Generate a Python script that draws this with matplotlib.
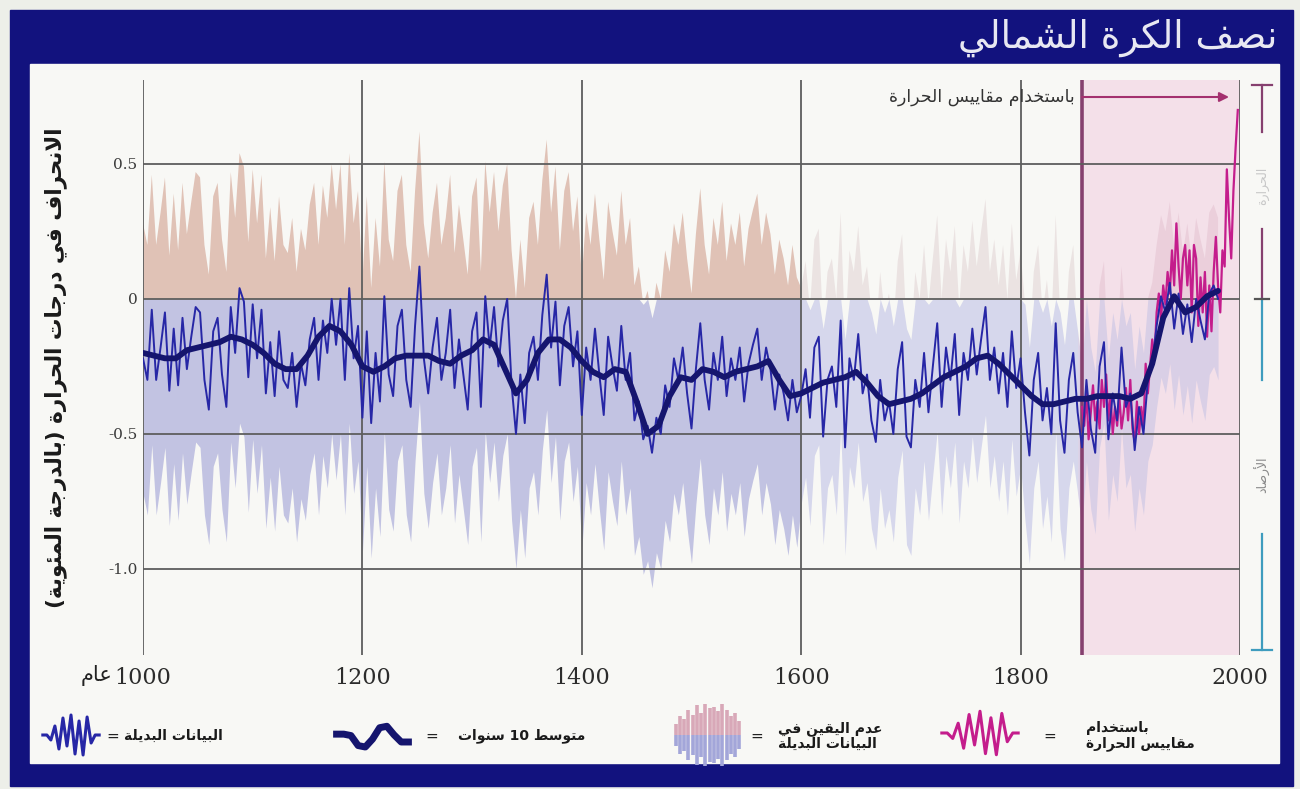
import re

import numpy as np
import matplotlib
matplotlib.use('Agg')
import matplotlib.pyplot as plt
from matplotlib.patches import Rectangle
from matplotlib.lines import Line2D

####################
# data (deg C anomaly)
####################
proxy_years = np.arange(1000, 1981, 4)
proxy = np.array(
    # 1000-1096
    [-0.22, -0.30, -0.04, -0.30, -0.18, -0.05, -0.34, -0.11, -0.32, -0.07,
     -0.26, -0.14, -0.03, -0.05, -0.30, -0.41, -0.12, -0.07, -0.28, -0.40,
     -0.03, -0.20, 0.04, -0.01, -0.29]
    # 1100-1196
    + [-0.02, -0.22, -0.04, -0.35, -0.16, -0.36, -0.12, -0.30, -0.33, -0.20,
       -0.40, -0.24, -0.32, -0.15, -0.07, -0.30, -0.08, -0.20, 0.00, -0.17,
       0.00, -0.30, 0.04, -0.22, -0.10]
    # 1200-1296
    + [-0.44, -0.12, -0.46, -0.20, -0.38, 0.01, -0.28, -0.36, -0.10, -0.04,
       -0.30, -0.40, -0.10, 0.12, -0.22, -0.35, -0.18, -0.07, -0.30, -0.20,
       -0.04, -0.33, -0.15, -0.28, -0.41]
    # 1300-1396
    + [-0.12, -0.05, -0.40, 0.01, -0.18, -0.03, -0.25, -0.08, 0.00, -0.32,
       -0.50, -0.28, -0.46, -0.20, -0.14, -0.30, -0.06, 0.09, -0.18, -0.01,
       -0.32, -0.10, -0.03, -0.25, -0.12]
    # 1400-1496
    + [-0.43, -0.18, -0.30, -0.11, -0.28, -0.43, -0.14, -0.25, -0.34, -0.10,
       -0.30, -0.20, -0.45, -0.38, -0.52, -0.47, -0.57, -0.44, -0.50, -0.32,
       -0.40, -0.22, -0.30, -0.18, -0.35]
    # 1500-1596
    + [-0.48, -0.26, -0.09, -0.30, -0.41, -0.20, -0.30, -0.14, -0.36, -0.22,
       -0.30, -0.18, -0.38, -0.24, -0.17, -0.11, -0.30, -0.18, -0.26, -0.41,
       -0.28, -0.35, -0.45, -0.30, -0.42]
    # 1600-1696
    + [-0.36, -0.26, -0.44, -0.18, -0.14, -0.51, -0.30, -0.25, -0.40, -0.08,
       -0.55, -0.22, -0.30, -0.13, -0.35, -0.28, -0.45, -0.53, -0.30, -0.45,
       -0.38, -0.50, -0.26, -0.16, -0.51]
    # 1700-1796
    + [-0.55, -0.30, -0.40, -0.20, -0.42, -0.25, -0.09, -0.40, -0.18, -0.30,
       -0.13, -0.43, -0.20, -0.30, -0.11, -0.28, -0.15, -0.03, -0.30, -0.18,
       -0.35, -0.20, -0.40, -0.12, -0.33]
    # 1800-1896
    + [-0.22, -0.42, -0.58, -0.30, -0.20, -0.45, -0.33, -0.50, -0.09, -0.45,
       -0.57, -0.30, -0.20, -0.42, -0.55, -0.30, -0.48, -0.57, -0.25, -0.16,
       -0.52, -0.35, -0.45, -0.18, -0.40]
    # 1900-1980
    + [-0.35, -0.56, -0.40, -0.50, -0.30, -0.24, -0.10, 0.01, -0.05, 0.06,
       -0.11, 0.02, -0.13, -0.02, -0.16, 0.00, -0.08, -0.15, 0.02, 0.05,
       0.00])

smooth_years = np.arange(1000, 1981, 10)
smooth = np.array(
    [-0.20, -0.21, -0.22, -0.22, -0.19, -0.18, -0.17, -0.16, -0.14, -0.15,
     -0.17, -0.20, -0.24, -0.26, -0.26, -0.21, -0.14, -0.10, -0.12, -0.17,
     -0.25, -0.27, -0.25, -0.22, -0.21, -0.21, -0.21, -0.23, -0.24, -0.21,
     -0.19, -0.15, -0.17, -0.26, -0.35, -0.30, -0.20, -0.15, -0.15, -0.18,
     -0.23, -0.27, -0.29, -0.26, -0.27, -0.38, -0.50, -0.47, -0.36, -0.29,
     -0.30, -0.26, -0.27, -0.29, -0.27, -0.26, -0.25, -0.23, -0.30, -0.36,
     -0.35, -0.33, -0.31, -0.30, -0.29, -0.27, -0.31, -0.36, -0.39, -0.38,
     -0.37, -0.35, -0.32, -0.29, -0.27, -0.25, -0.22, -0.21, -0.24, -0.28,
     -0.32, -0.36, -0.39, -0.39, -0.38, -0.37, -0.37, -0.36, -0.36, -0.36,
     -0.37, -0.35, -0.24, -0.07, 0.01, -0.05, -0.03, 0.01, 0.03])

instr_years = np.arange(1856, 1999, 2)
instr = np.array(
    [-0.40, -0.47, -0.35, -0.52, -0.42, -0.32, -0.45, -0.38, -0.48, -0.30,
     -0.40, -0.28, -0.45, -0.36, -0.50, -0.40, -0.47, -0.36, -0.48, -0.42,
     -0.33, -0.45, -0.30, -0.48, -0.53, -0.38, -0.50, -0.40, -0.48, -0.24,
     -0.35, -0.25, -0.15, -0.22, -0.05, 0.02, -0.08, 0.05, -0.02, 0.10,
     0.02, 0.18, 0.05, 0.28, 0.12, 0.00, 0.15, 0.20, 0.05, 0.18,
     -0.05, 0.20, 0.15, -0.10, 0.08, -0.05, 0.10, -0.14, 0.05, -0.12,
     0.10, 0.23, 0.05, -0.05, 0.18, 0.12, 0.48, 0.30, 0.15, 0.40,
     0.56, 0.70])

# half width of the proxy uncertainty, per period
unc_start = [1000, 1600, 1850]
unc_half = [0.50, 0.40, 0.30]

instr_start = 1856
xticks = [1000, 1200, 1400, 1600, 1800, 2000]
yticks = [0.5, 0, -0.5, -1.0]
ytick_labels = ['0.5', '0', '-0.5', '-1.0']

title = 'نصف الكرة الشمالي'
ylabel = 'الانحراف في درجات الحرارة (بالدرجة المئوية)'
year_word = 'عام'
instr_note = 'باستخدام مقاييس الحرارة'
side_top = 'الحرارة'
side_bottom = 'الأرصاد'
leg_proxy = 'البيانات البديلة'
leg_smooth = 'متوسط 10 سنوات'
leg_unc = 'عدم اليقين في\nالبيانات البديلة'
leg_instr = 'باستخدام\nمقاييس الحرارة'

# little shapes for the legend keys
icon_zigzag = [0, 0, -0.25, 0.45, -0.7, 0.85, -0.55, 1.0, -0.95, 0.7,
               -1.0, 0.9, -0.4, 0, 0]
icon_wave = [0.25, 0.25, 0.15, -0.55, -0.65, -0.1, 0.7, 0.8, 0.2, -0.3, -0.3]
icon_spread = [0.35, 0.6, 0.5, 0.8, 0.65, 0.95, 0.7, 1.0, 0.85, 0.9, 0.75,
               1.0, 0.8, 0.6, 0.7, 0.45]

####################
# arabic shaping (matplotlib has no text shaping / bidi)
####################
_LETTERS = [('ء', 1), ('آ', 2), ('أ', 2), ('ؤ', 2), ('إ', 2), ('ئ', 4),
            ('ا', 2), ('ب', 4), ('ة', 2), ('ت', 4), ('ث', 4), ('ج', 4),
            ('ح', 4), ('خ', 4), ('د', 2), ('ذ', 2), ('ر', 2), ('ز', 2),
            ('س', 4), ('ش', 4), ('ص', 4), ('ض', 4), ('ط', 4), ('ظ', 4),
            ('ع', 4), ('غ', 4), ('ف', 4), ('ق', 4), ('ك', 4), ('ل', 4),
            ('م', 4), ('ن', 4), ('ه', 4), ('و', 2), ('ى', 2), ('ي', 4)]
FORMS = {}
code = 0xFE80
for letter, n in _LETTERS:
    FORMS[letter] = [chr(code + k) for k in range(n)]
    code += n
LAM_ALEF = {'آ': 0xFEF5, 'أ': 0xFEF7, 'إ': 0xFEF9, 'ا': 0xFEFB}


def ar(text):
    """presentation forms, in left to right order"""
    lines = []
    for line in text.split('\n'):
        out = []
        i = 0
        while i < len(line):
            c = line[i]
            if c not in FORMS:
                out.append(c)
                i += 1
                continue
            prev = line[i - 1] if i > 0 else ''
            nxt = line[i + 1] if i + 1 < len(line) else ''
            jp = len(FORMS.get(prev, '')) == 4 and c != 'ء'
            if c == 'ل' and nxt in LAM_ALEF:
                out.append(chr(LAM_ALEF[nxt] + jp))
                i += 2
                continue
            jn = len(FORMS[c]) == 4 and nxt in FORMS and nxt != 'ء'
            form = 3 if jp and jn else 1 if jp else 2 if jn else 0
            out.append(FORMS[c][form])
            i += 1
        s = ''.join(out)[::-1]
        s = re.sub(r'[0-9.]+', lambda m: m.group(0)[::-1], s)
        lines.append(s.translate(str.maketrans('()', ')(')))
    return '\n'.join(lines)


####################
# figure
####################
W, H = 1300, 789
NAVY = '#12127e'
PROXY = '#2727a6'
SMOOTH = '#15156e'
INSTR = '#c41d8c'
MAUVE = '#86406f'
AR = 'DejaVu Sans'
SERIF = 'DejaVu Serif'


def px(x):
    return x / W


def py(y):
    return 1 - y / H


fig = plt.figure(figsize=(W / 100, H / 100), dpi=100, facecolor='#edefe9')

# blue frame with the title bar, and the white panel inside
fig.add_artist(Rectangle((px(10), py(786)), px(1293) - px(10), py(10) - py(786),
                         transform=fig.transFigure, color=NAVY, zorder=-10))
fig.add_artist(Rectangle((px(30), py(763)), px(1279) - px(30), py(64) - py(763),
                         transform=fig.transFigure, color='#f8f8f5', zorder=-9))
fig.text(px(1277), py(38), ar(title), ha='right', va='center', fontsize=27,
         color='#e8e8f2', family=AR)

ax = fig.add_axes([px(143), py(655), px(1240) - px(143), py(80) - py(655)])
ax.set_facecolor('none')
ax.set_xlim(1000, 2000)
ax.set_ylim(-1.319, 0.811)

# thermometer era
ax.axvspan(instr_start, 2000, color='#f4e0e9', lw=0, zorder=0)

# uncertainty envelope around the proxy series
period = np.searchsorted(unc_start, proxy_years, side='right') - 1
half = np.array(unc_half)[period]
upper = proxy + half
lower = proxy - half
up_colors = ['#e0c2b6', '#ebe3e2', '#ebcfdb']
low_colors = ['#c2c3e2', '#d6d7ec', '#d9cfe6']
for k in range(len(unc_start)):
    m = period == k
    idx = np.where(m)[0]
    if idx[-1] + 1 < len(m):
        m[idx[-1] + 1] = True
    ax.fill_between(proxy_years[m], 0, upper[m], where=upper[m] > 0,
                    interpolate=True, color=up_colors[k], lw=0, zorder=1)
    ax.fill_between(proxy_years[m], lower[m], np.minimum(upper[m], 0),
                    color=low_colors[k], lw=0, zorder=1)

ax.axvline(instr_start, color=MAUVE, lw=2.6, zorder=2)

ax.plot(instr_years, instr, color=INSTR, lw=1.6, zorder=3)
ax.plot(proxy_years, proxy, color=PROXY, lw=1.4, zorder=4)
ax.plot(smooth_years, smooth, color=SMOOTH, lw=4.2, zorder=5,
        solid_capstyle='round', solid_joinstyle='round')

# grid and ticks
ax.set_xticks(xticks)
ax.set_yticks(yticks)
ax.set_yticklabels(ytick_labels)
ax.set_axisbelow(False)
ax.grid(True, color='#5e5e5e', lw=1.3)
ax.tick_params(length=0)
ax.tick_params(axis='x', pad=9, labelsize=16, labelcolor='#2c2c2c')
ax.tick_params(axis='y', pad=4, labelsize=11, labelcolor='#3a3a3a')
for lab in ax.get_xticklabels() + ax.get_yticklabels():
    lab.set_family(SERIF)
for s in ax.spines.values():
    s.set_visible(False)

fig.text(px(113), py(676), ar(year_word), ha='right', va='center',
         fontsize=15, family=AR, color='#222222')
fig.text(px(56), py(368), ar(ylabel), rotation=90, ha='center', va='center',
         fontsize=15.5, weight='bold', family=AR, color='#1a1a1a')

# arrow over the thermometer era
ax.annotate('', xy=(1990, 0.748), xytext=(instr_start, 0.748),
            arrowprops=dict(arrowstyle='-|>', color='#a4306f', lw=1.5,
                            mutation_scale=14, shrinkA=0, shrinkB=0))
ax.text(1849, 0.748, ar(instr_note), ha='right', va='center', fontsize=12.5,
        family=AR, color='#333333')

# bar at the right edge
tr = ax.get_yaxis_transform()
bx = 1.0201
TEAL = '#3e9cbe'
for y0, y1, col in [(0.793, 0.62, MAUVE), (0.26, 0.0, MAUVE),
                    (0.0, -0.30, TEAL), (-0.87, -1.30, TEAL)]:
    ax.add_line(Line2D([bx, bx], [y0, y1], transform=tr, color=col, lw=1.6,
                       clip_on=False))
for yc, col, w in [(0.793, MAUVE, 0.009), (0.0, '#555555', 0.006),
                   (-1.30, TEAL, 0.009)]:
    ax.add_line(Line2D([bx - w, bx + w], [yc, yc], transform=tr, color=col,
                       lw=1.6, clip_on=False))
ax.text(bx, 0.42, ar(side_top), transform=tr, rotation=90, ha='center',
        va='center', fontsize=9, family=AR, color='#c8c8c8', clip_on=False)
ax.text(bx, -0.65, ar(side_bottom), transform=tr, rotation=90, ha='center',
        va='center', fontsize=9, family=AR, color='#8a8a8a', clip_on=False)


####################
# legend row
####################
def icon_axes(x0, y0, x1, y1):
    a = fig.add_axes([px(x0), py(y1), px(x1) - px(x0), py(y0) - py(y1)])
    a.set_axis_off()
    return a


a = icon_axes(40, 712, 102, 758)
a.plot(np.arange(len(icon_zigzag)), icon_zigzag, color=PROXY, lw=2.2)
a.set_ylim(-1.15, 1.15)

a = icon_axes(333, 722, 412, 752)
a.plot(np.arange(len(icon_wave)), icon_wave, color=SMOOTH, lw=5,
       solid_joinstyle='round')
a.set_ylim(-1, 1.1)

a = icon_axes(673, 702, 742, 768)
xs = np.arange(len(icon_spread))
a.vlines(xs, 0, icon_spread, color='#d8a8b8', lw=2.6)
a.vlines(xs, [-h for h in icon_spread], 0, color='#a3a6d9', lw=2.6)
a.set_ylim(-1.05, 1.05)
a.set_xlim(-0.6, len(icon_spread) - 0.4)

a = icon_axes(938, 708, 1022, 758)
a.plot(np.arange(len(icon_zigzag)), icon_zigzag, color=INSTR, lw=2.2)
a.set_ylim(-1.15, 1.15)

for x_eq, x_txt, txt in [(113, 124, leg_proxy), (432, 458, leg_smooth),
                         (757, 778, leg_unc), (1050, 1086, leg_instr)]:
    fig.text(px(x_eq), py(736), '=', ha='center', va='center', fontsize=11,
             color='#222222')
    fig.text(px(x_txt), py(736), ar(txt), ha='left', va='center',
             fontsize=10, weight='bold', family=AR, color='#1a1a1a',
             linespacing=1.1)

fig.savefig('out.png', dpi=100, facecolor=fig.get_facecolor())
